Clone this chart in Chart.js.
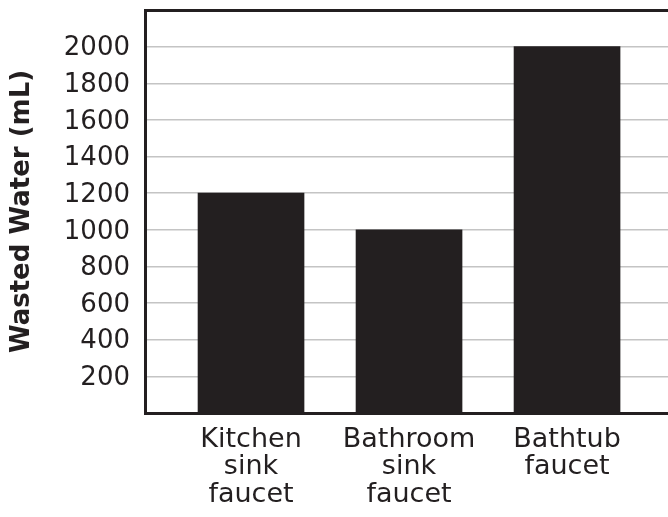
<!DOCTYPE html>
<html>
<head>
<meta charset="utf-8">
<script src="https://cdn.jsdelivr.net/npm/chart.js@4/dist/chart.umd.min.js"></script>
<style>
    html, body { margin: 0; padding: 0; background: #ffffff; overflow: hidden; }
    #wrap { width: 668px; height: 517px; position: relative; }
</style>
</head>
<body>
<div id="wrap"><canvas id="myChart"></canvas></div>
<script>
// chart data
const categories = [
    ['Kitchen', 'sink', 'faucet'],
    ['Bathroom', 'sink', 'faucet'],
    ['Bathtub', 'faucet']
];
const wastedWater = [1200, 1000, 2000];
const yTicks = [200, 400, 600, 800, 1000, 1200, 1400, 1600, 1800, 2000];

const ink = '#231f20';
const gridGray = '#c4c4c4';

document.addEventListener('DOMContentLoaded', () => {
    const ctx = document.getElementById('myChart').getContext('2d');
    new Chart(ctx, {
        type: 'bar',
        data: {
            datasets: [{
                data: wastedWater.map((v, i) => ({ x: i, y: v })),
                backgroundColor: ink,
                borderWidth: 0,
                barThickness: 106
            }]
        },
        options: {
            responsive: true,
            maintainAspectRatio: false,
            animation: false,
            layout: { padding: { top: 10, left: 0, right: 0, bottom: 0 } },
            plugins: {
                legend: { display: false },
                tooltip: { enabled: false }
            },
            scales: {
                x: {
                    type: 'linear',
                    offset: false,
                    min: -0.671,
                    max: 2.639,
                    afterBuildTicks: (scale) => {
                        scale.ticks = categories.map((c, i) => ({ value: i }));
                    },
                    afterFit: (scale) => {
                        scale.height = 104;
                        scale.paddingLeft = 0;
                        scale.paddingRight = 0;
                    },
                    ticks: {
                        autoSkip: false,
                        maxRotation: 0,
                        padding: 13,
                        color: ink,
                        font: { family: 'DejaVu Sans', size: 27, lineHeight: 1.02 },
                        callback: (value) => categories[value]
                    },
                    grid: { display: false, drawTicks: false },
                    border: { display: true, color: ink, width: 3 }
                },
                y: {
                    min: 0,
                    max: 2200,
                    afterBuildTicks: (scale) => {
                        scale.ticks = [0].concat(yTicks, [2200]).map(v => ({ value: v }));
                    },
                    afterFit: (scale) => {
                        scale.width = 145;
                        scale.paddingTop = 0;
                        scale.paddingBottom = 0;
                    },
                    ticks: {
                        padding: 15,
                        labelOffset: 2,
                        color: ink,
                        font: { family: 'DejaVu Sans', size: 26 },
                        callback: (value) => yTicks.includes(value) ? String(value) : ''
                    },
                    grid: {
                        drawTicks: false,
                        color: (c) => c.tick && c.tick.value === 2200 ? ink : (c.tick && c.tick.value === 0 ? 'rgba(0,0,0,0)' : gridGray),
                        lineWidth: (c) => c.tick && c.tick.value === 2200 ? 3 : 1.5
                    },
                    border: { display: true, color: ink, width: 3 },
                    title: {
                        display: true,
                        text: 'Wasted Water (mL)',
                        color: ink,
                        font: { family: 'DejaVu Sans', size: 26, weight: 'bold' },
                        padding: { top: 7, bottom: 0 }
                    }
                }
            }
        }
    });
});
</script>
</body>
</html>
